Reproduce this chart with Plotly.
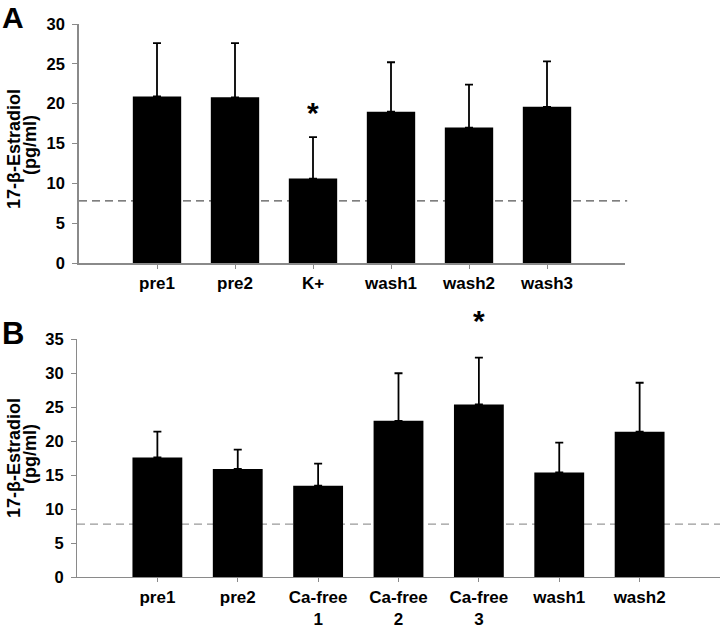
import plotly.graph_objects as go

W, H = 720, 631

# Panel A data
cats_a = ["pre1", "pre2", "K+", "wash1", "wash2", "wash3"]
vals_a = [20.9, 20.8, 10.6, 19.0, 17.0, 19.6]
err_a = [6.7, 6.8, 5.2, 6.2, 5.4, 5.7]
yticks_a = [0, 5, 10, 15, 20, 25, 30]

# Panel B data
cats_b = ["pre1", "pre2", "Ca-free<br>1", "Ca-free<br>2", "Ca-free<br>3", "wash1", "wash2"]
vals_b = [17.6, 15.9, 13.45, 23.0, 25.4, 15.4, 21.4]
err_b = [3.8, 2.85, 3.25, 7.0, 6.9, 4.4, 7.2]
yticks_b = [0, 5, 10, 15, 20, 25, 30, 35]

baseline = 7.8  # dashed detection-limit line
star_a = ("K+", 18.9)
star_b_value = 37.8
ymax_b = 35

FONT = "Liberation Sans, Arial, sans-serif"
AX = "#8a8a8a"

def px_x(p):
    return p / W

def px_y(p):
    return 1 - p / H

fig = go.Figure()

fig.add_trace(go.Bar(
    x=cats_a, y=vals_a, xaxis="x", yaxis="y",
    marker=dict(color="black", line=dict(width=0)),
    width=0.62,
    error_y=dict(type="data", array=err_a, arrayminus=[0] * len(err_a), symmetric=False,
                 color="black", thickness=1.8, width=4),
    showlegend=False,
))
fig.add_trace(go.Bar(
    x=cats_b, y=vals_b, xaxis="x2", yaxis="y2",
    marker=dict(color="black", line=dict(width=0)),
    width=0.62,
    error_y=dict(type="data", array=err_b, arrayminus=[0] * len(err_b), symmetric=False,
                 color="black", thickness=1.8, width=4),
    showlegend=False,
))

xtickfont = dict(family=FONT, size=17, color="black", weight="bold")
ytickfont = dict(family=FONT, size=16.5, color="black", weight="bold")

common_x = dict(type="category", showline=True, linecolor=AX, ticks="outside", ticklen=4,
                tickcolor=AX, showgrid=False, tickfont=xtickfont, zeroline=False,
                automargin=False)
common_y = dict(showline=True, linecolor=AX, ticks="outside", ticklen=5, tickcolor=AX,
                showgrid=False, tickfont=ytickfont, zeroline=False, automargin=False,
                ticklabelstandoff=4)

fig.update_layout(
    width=W, height=H,
    template="none",
    margin=dict(l=0, r=0, t=0, b=0, pad=0),
    paper_bgcolor="white", plot_bgcolor="white",
    font=dict(family=FONT),
    xaxis=dict(domain=[px_x(79), px_x(625)], anchor="y", range=[-1, 6], linewidth=1.5,
               **common_x),
    yaxis=dict(domain=[px_y(263), px_y(24)], anchor="x", range=[0, 30],
               tickvals=yticks_a, linewidth=1.5, **common_y),
    xaxis2=dict(domain=[px_x(77), 1.0], anchor="y2", range=[-1, 7], linewidth=1.2,
                **common_x),
    yaxis2=dict(domain=[px_y(577), px_y(339.3)], anchor="x2", range=[0, ymax_b],
                tickvals=yticks_b, linewidth=1.2, **common_y),
    bargap=0.38,
)

# dashed baseline lines
fig.add_shape(type="line", xref="x domain", yref="y", x0=0, x1=1.004, y0=baseline, y1=baseline,
              line=dict(color="#555555", width=1.3, dash="8px,5px"), layer="below")
fig.add_shape(type="line", xref="x2 domain", yref="y2", x0=0, x1=1, y0=baseline, y1=baseline,
              line=dict(color="#999999", width=1.3, dash="8px,5px"), layer="below")

# significance stars
fig.add_annotation(x=star_a[0], y=star_a[1], xref="x", yref="y", text="<b>*</b>",
                   xanchor="center", yanchor="middle",
                   showarrow=False, font=dict(family=FONT, size=30, color="black"))
fig.add_annotation(x=4, y=star_b_value / ymax_b, xref="x2", yref="y2 domain", text="<b>*</b>",
                   xanchor="center", yanchor="middle",
                   showarrow=False, font=dict(family=FONT, size=30, color="black"))

# axis titles (two separate lines, tightly spaced)
for yc in (149, 458):
    fig.add_annotation(x=px_x(14), y=px_y(yc), xref="paper", yref="paper",
                       text="<b>17-β-Estradiol</b>",
                       textangle=-90, xanchor="center", yanchor="middle",
                       showarrow=False, font=dict(family=FONT, size=18, color="black"))
    fig.add_annotation(x=px_x(30), y=px_y(yc - 4), xref="paper", yref="paper",
                       text="<b>(pg/ml)</b>",
                       textangle=-90, xanchor="center", yanchor="middle",
                       showarrow=False, font=dict(family=FONT, size=18, color="black"))

# panel labels
fig.add_annotation(x=px_x(13), y=px_y(17.5), xref="paper", yref="paper", text="<b>A</b>",
                   xanchor="center", yanchor="middle",
                   showarrow=False, font=dict(family=FONT, size=30, color="black"))
fig.add_annotation(x=px_x(13), y=px_y(333), xref="paper", yref="paper", text="<b>B</b>",
                   xanchor="center", yanchor="middle",
                   showarrow=False, font=dict(family=FONT, size=31, color="black"))

fig.write_html("out.html",
               config={"displayModeBar": False},
               post_script="document.body.style.margin='0';document.body.style.overflow='hidden';")
